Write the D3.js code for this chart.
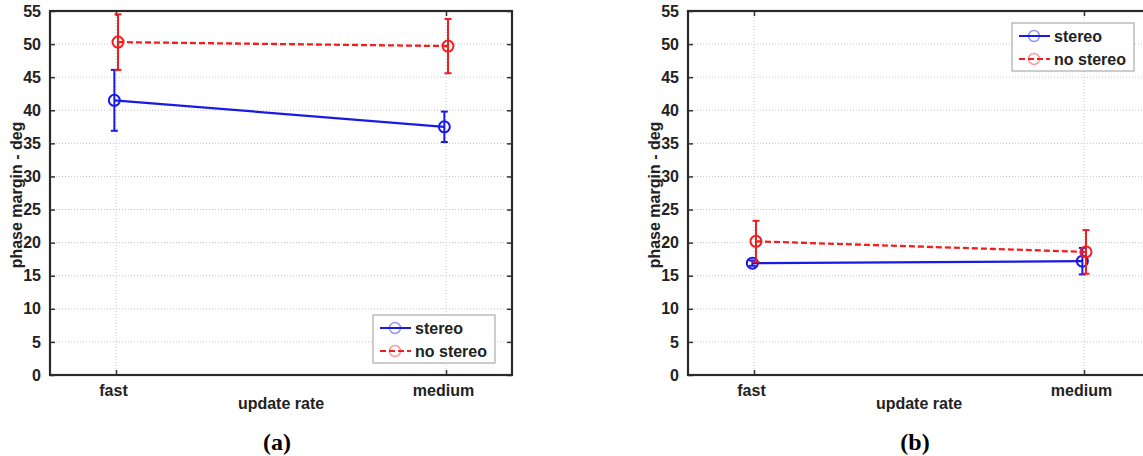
<!DOCTYPE html>
<html>
<head>
<meta charset="utf-8">
<script src="https://cdn.jsdelivr.net/npm/d3@7"></script>
<style>
  html, body { margin: 0; padding: 0; background: #fff; }
  svg { display: block; }
  .lbl { font-family: "Liberation Sans", Arial, sans-serif; font-weight: bold; font-size: 16px; fill: #222; }
  .cap { font-family: "Liberation Serif", "Times New Roman", serif; font-weight: bold; font-size: 24px; fill: #000; }
</style>
</head>
<body>
<svg id="chart" width="1143" height="456"></svg>
<script>
// Phase margin by update rate, with and without stereo display
const categories = ["fast", "medium"];
const yTickValues = [0, 5, 10, 15, 20, 25, 30, 35, 40, 45, 50, 55];
const seriesNames = ["stereo", "no stereo"];

// panel (a)
const stereoA = [41.5, 37.5];
const stereoAErr = [4.6, 2.3];
const noStereoA = [50.3, 49.7];
const noStereoAErr = [4.2, 4.1];

// panel (b)
const stereoB = [16.9, 17.2];
const stereoBErr = [0.4, 2.0];
const noStereoB = [20.2, 18.6];
const noStereoBErr = [3.1, 3.3];

const svg = d3.select("#chart");
const BLUE = "#1a1ae6", RED = "#f01e1e";

function panel(opt) {
  const { left, right, top, bottom } = opt;
  const g = svg.append("g");
  const x = d3.scaleLinear().domain([0.8, 2.2]).range([left, right]);
  const y = d3.scaleLinear().domain([0, 55]).range([bottom, top]);

  // grid
  g.append("g").selectAll("line.gy").data(yTickValues.filter(v => v > 0 && v < 55))
    .join("line")
    .attr("x1", left).attr("x2", right)
    .attr("y1", d => y(d)).attr("y2", d => y(d))
    .attr("stroke", "#c4c4c4").attr("stroke-width", 1).attr("stroke-dasharray", "1,2");
  g.append("g").selectAll("line.gx").data(categories)
    .join("line")
    .attr("x1", (d, i) => x(i + 1)).attr("x2", (d, i) => x(i + 1))
    .attr("y1", top).attr("y2", bottom)
    .attr("stroke", "#c4c4c4").attr("stroke-width", 1).attr("stroke-dasharray", "1,2");

  // left axis (ticks inward) with labels
  const yAxis = d3.axisLeft(y).tickValues(yTickValues).tickSize(-5).tickPadding(9);
  const ya = g.append("g").attr("transform", `translate(${left},0)`).call(yAxis);
  ya.select(".domain").remove();
  ya.selectAll(".tick line").attr("stroke", "#333").attr("stroke-width", 1.5);
  ya.selectAll(".tick text").attr("class", "lbl").attr("font-size", null).attr("font-family", null)
    .attr("fill", null);

  // right axis ticks
  const yr = g.append("g").attr("transform", `translate(${right},0)`)
    .call(d3.axisRight(y).tickValues(yTickValues).tickSize(-5).tickFormat(""));
  yr.select(".domain").remove();
  yr.selectAll(".tick line").attr("stroke", "#333").attr("stroke-width", 1.5);

  // bottom axis with category labels
  const xAxis = d3.axisBottom(x).tickValues([1, 2]).tickSize(-5).tickPadding(10)
    .tickFormat(d => categories[d - 1]);
  const xa = g.append("g").attr("transform", `translate(0,${bottom})`).call(xAxis);
  xa.select(".domain").remove();
  xa.selectAll(".tick line").attr("stroke", "#333").attr("stroke-width", 1.5);
  xa.selectAll(".tick text").attr("class", "lbl").attr("font-size", null).attr("font-family", null)
    .attr("fill", null).attr("dx", "-3");

  // top ticks
  const xt = g.append("g").attr("transform", `translate(0,${top})`)
    .call(d3.axisTop(x).tickValues([1, 2]).tickSize(-5).tickFormat(""));
  xt.select(".domain").remove();
  xt.selectAll(".tick line").attr("stroke", "#333").attr("stroke-width", 1.5);

  // box
  g.append("rect").attr("x", left).attr("y", top)
    .attr("width", right - left).attr("height", bottom - top)
    .attr("fill", "none").attr("stroke", "#2a2a2a").attr("stroke-width", 2.2);

  // series
  const series = [
    { vals: opt.s1, err: opt.e1, color: BLUE, dash: null, dodge: -0.005 },
    { vals: opt.s2, err: opt.e2, color: RED, dash: "6,3", dodge: 0.006 }
  ];
  const capW = 3.5;
  series.forEach(s => {
    const pts = s.vals.map((v, i) => ({ xv: i + 1 + s.dodge, v, e: s.err[i] }));
    const line = d3.line().x(d => x(d.xv)).y(d => y(d.v));
    g.append("path").datum(pts).attr("d", line)
      .attr("fill", "none").attr("stroke", s.color).attr("stroke-width", 2.3)
      .attr("stroke-dasharray", s.dash);
    const eb = g.append("g").attr("stroke", s.color).attr("stroke-width", 2);
    eb.selectAll("line.v").data(pts).join("line")
      .attr("x1", d => x(d.xv)).attr("x2", d => x(d.xv))
      .attr("y1", d => y(d.v - d.e)).attr("y2", d => y(d.v + d.e));
    eb.selectAll("line.t").data(pts).join("line")
      .attr("x1", d => x(d.xv) - capW).attr("x2", d => x(d.xv) + capW)
      .attr("y1", d => y(d.v + d.e)).attr("y2", d => y(d.v + d.e));
    eb.selectAll("line.b").data(pts).join("line")
      .attr("x1", d => x(d.xv) - capW).attr("x2", d => x(d.xv) + capW)
      .attr("y1", d => y(d.v - d.e)).attr("y2", d => y(d.v - d.e));
    g.append("g").selectAll("circle").data(pts).join("circle")
      .attr("cx", d => x(d.xv)).attr("cy", d => y(d.v)).attr("r", 5.5)
      .attr("fill", "none").attr("stroke", s.color).attr("stroke-width", 2);
  });

  // axis titles
  g.append("text").attr("class", "lbl")
    .attr("transform", `translate(${left - 34},${(top + bottom) / 2 + 2}) rotate(-90)`)
    .attr("dy", "0.35em")
    .attr("text-anchor", "middle").text("phase margin - deg");
  g.append("text").attr("class", "lbl")
    .attr("x", (left + right) / 2).attr("y", bottom + 34)
    .attr("text-anchor", "middle").text("update rate");
  g.append("text").attr("class", "cap")
    .attr("x", opt.capX).attr("y", 450)
    .attr("text-anchor", "middle").text(opt.caption);

  // legend
  const lg = g.append("g").attr("transform", `translate(${opt.legX},${opt.legY})`);
  lg.append("rect").attr("width", 122).attr("height", 48)
    .attr("fill", "#fff").attr("stroke", "#9a9a9a").attr("stroke-width", 1);
  series.forEach((s, i) => {
    const ry = 13 + i * 23;
    lg.append("line").attr("x1", 7).attr("x2", 38).attr("y1", ry).attr("y2", ry)
      .attr("stroke", s.color).attr("stroke-width", 2).attr("stroke-dasharray", s.dash);
    lg.append("circle").attr("cx", 22).attr("cy", ry).attr("r", 5.5)
      .attr("fill", "none").attr("stroke", s.color).attr("stroke-width", 1.5).attr("opacity", 0.45);
    lg.append("text").attr("class", "lbl").attr("x", 42).attr("y", ry)
      .attr("dy", "0.35em").text(seriesNames[i]);
  });
}

panel({ left: 50, right: 512, top: 11, bottom: 375,
        s1: stereoA, e1: stereoAErr, s2: noStereoA, e2: noStereoAErr,
        legX: 373, legY: 315, caption: "(a)", capX: 277 });
panel({ left: 688, right: 1150, top: 11, bottom: 375,
        s1: stereoB, e1: stereoBErr, s2: noStereoB, e2: noStereoBErr,
        legX: 1012, legY: 23, caption: "(b)", capX: 915 });
</script>
</body>
</html>
